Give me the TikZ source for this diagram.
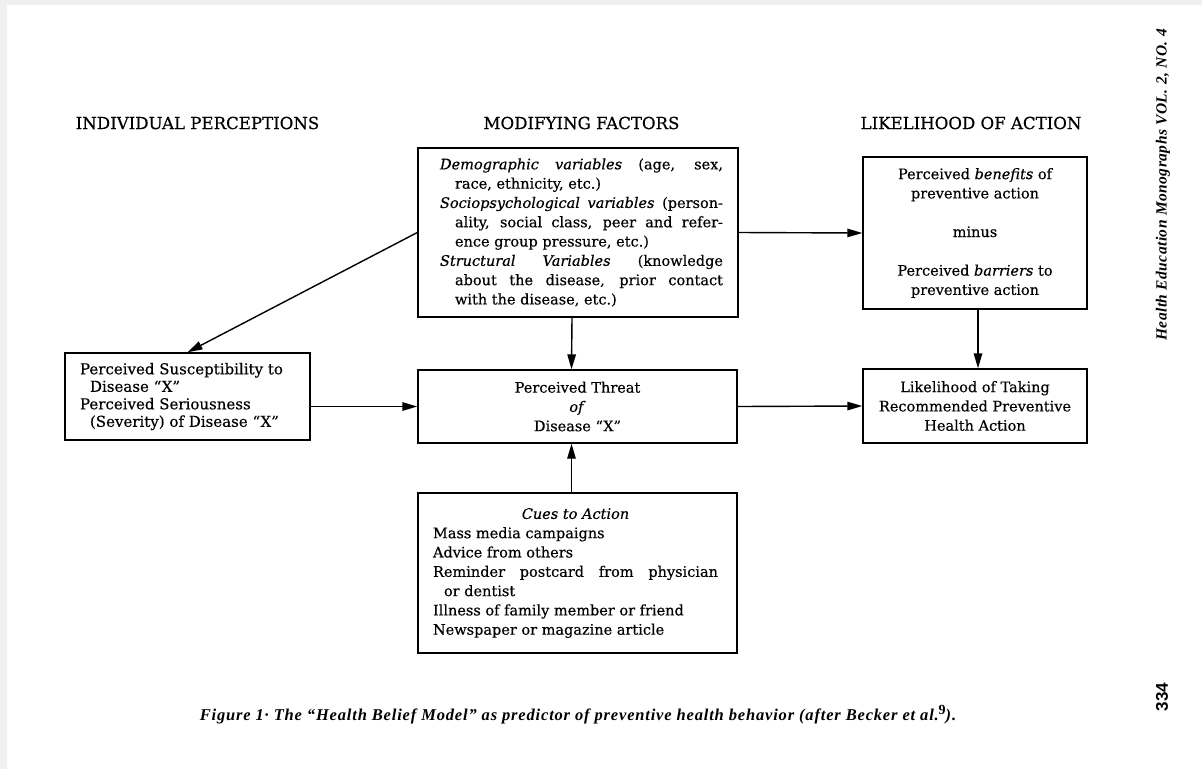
\documentclass[tikz,border=0pt]{standalone}
\usepackage{fontspec}
\setmainfont{DejaVu Serif}[FakeBold=0.4]
\newfontfamily\capfont{Liberation Serif}[LetterSpace=5]
\newfontfamily\jrnlfont{Liberation Serif}[LetterSpace=3]
\newfontfamily\numfont{Liberation Sans}
\usetikzlibrary{arrows.meta}
\begin{document}
\begin{tikzpicture}[x=1pt,y=-1pt,
  box/.style={draw, line width=1.4pt, inner sep=0pt},
  arr/.style={line width=1.4pt, -{Triangle[length=15pt,width=8.5pt]}},
  hdr/.style={font=\fontsize{16.6}{19}\selectfont},
  body/.style={font=\fontsize{14.5}{19.3}\selectfont},
  captext/.style={font=\capfont\bfseries\itshape\fontsize{16.5}{18}\selectfont}]
\useasboundingbox (0,0) rectangle (1202,769);
\fill[gray!12] (0,0) rectangle (1202,5);
\fill[gray!12] (0,0) rectangle (7,769);

% headers
\node[hdr] (h1) at (197.5,123) {INDIVIDUAL PERCEPTIONS};
\node[hdr] (h2) at (581.5,123) {MODIFYING FACTORS};
\node[hdr] (h3) at (971,123) {LIKELIHOOD OF ACTION};

% modifying factors
\node[box, body, minimum width=320pt, minimum height=169pt] (mod) at (578,232.5)
{\hspace*{7pt}\parbox{283pt}{%
\hangindent=15pt\hangafter=1 \textit{Demographic variables} (age, sex,\linebreak race, ethnicity, etc.)\par
\hangindent=15pt\hangafter=1 \textit{Sociopsychological variables} (person-\linebreak ality, social class, peer and refer-\linebreak ence group pressure, etc.)\par
\hangindent=15pt\hangafter=1 \textit{Structural Variables} (knowledge\linebreak about the disease, prior contact\linebreak with the disease, etc.)\par}};

% benefits minus barriers
\node[box, body, align=center, minimum width=224pt, minimum height=152pt] (ben) at (975,233)
{Perceived \textit{benefits} of\\preventive action\\[19.3pt]minus\\[19.3pt]Perceived \textit{barriers} to\\preventive action};

% likelihood
\node[box, body, align=center, minimum width=224pt, minimum height=74pt] (lik) at (975,406)
{Likelihood of Taking\\Recommended Preventive\\Health Action};

% susceptibility
\node[box, font=\fontsize{15}{17.5}\selectfont, minimum width=245pt, minimum height=87pt] (sus) at (187.5,396.5)
{\parbox{215pt}{\raggedright
\hangindent=10pt\hangafter=1 Perceived Susceptibility to\newline Disease “X”\par
\hangindent=10pt\hangafter=1 Perceived Seriousness\newline (Severity) of Disease “X”\par}};

% threat
\node[box, body, align=center, minimum width=319pt, minimum height=73pt] (thr) at (577.5,406.5)
{Perceived Threat\\\textit{of}\\Disease “X”};

% cues
\node[box, body, minimum width=319pt, minimum height=160pt] (cue) at (577.5,573)
{\hspace*{-4pt}\parbox{285pt}{%
{\centering\textit{Cues to Action}\par}
Mass media campaigns\par
Advice from others\par
\hangindent=11pt\hangafter=1 Reminder postcard from physician\linebreak or dentist\par
Illness of family member or friend\par
Newspaper or magazine article\par}};

% connectors
\draw[arr] (mod.west) -- (sus.north);
\draw[arr] (mod.east) -- (ben.west);
\draw[arr] ([xshift=-6pt]mod.south) -- ([xshift=-6pt]thr.north);
\draw[arr] (sus.east |- thr.west) -- (thr.west);
\draw[arr] (thr.east) -- (lik.west);
\draw[arr] ([xshift=3pt]ben.south) -- ([xshift=3pt]lik.north);
\draw[arr] ([xshift=-6pt]cue.north) -- ([xshift=-6pt]thr.south);

% caption and margin
\node[captext] (capt) at (578,715) {Figure 1· The “Health Belief Model” as predictor of preventive health behavior (after Becker et al.\raisebox{6pt}{\upshape\fontsize{14}{14}\selectfont 9}).};
\node[rotate=90, font=\jrnlfont\bfseries\itshape\fontsize{15.5}{18}\selectfont] (jrnl) at (1163,185) {Health Education Monographs VOL. 2, NO. 4};
\node[rotate=90, font=\numfont\bfseries\fontsize{17}{19}\selectfont] (pg) at (1162,697) {334};
\end{tikzpicture}
\end{document}
